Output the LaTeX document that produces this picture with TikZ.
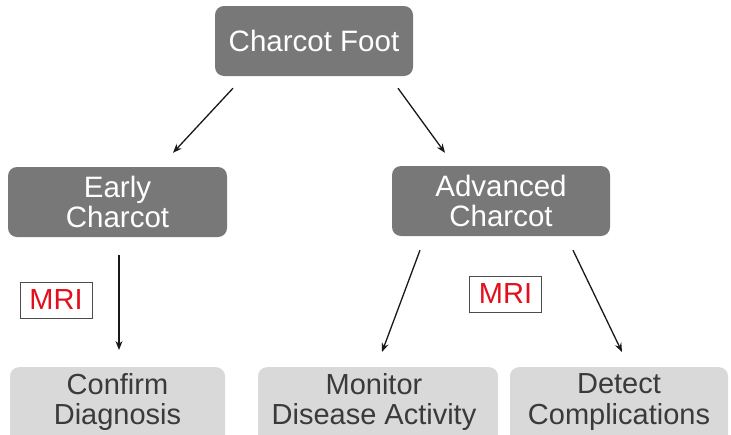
\documentclass[tikz,border=0pt]{standalone}
\usepackage{fontspec}
\setmainfont{Liberation Sans}
\usetikzlibrary{arrows.meta}
\definecolor{darkbox}{HTML}{787878}
\definecolor{lightbox}{HTML}{D9D9D9}
\definecolor{lighttext}{HTML}{3A3A3A}
\definecolor{mrired}{HTML}{E2101C}
\tikzset{
  darknode/.style={fill=darkbox, draw=none, rounded corners=9pt, text=white,
    font=\fontsize{29.5}{30}\selectfont, align=center, inner sep=0pt},
  lightnode/.style={fill=lightbox, draw=none, rounded corners=9pt,
    inner sep=0pt, anchor=north},
  lighttextnode/.style={text=lighttext, font=\fontsize{29}{30.5}\selectfont,
    align=center, inner sep=0pt},
  mribox/.style={draw=black!70, fill=white, line width=0.8pt, text=mrired,
    font=\fontsize{29}{30}\selectfont, minimum width=72pt, minimum height=36pt, inner sep=0pt},
  conn/.style={-{Stealth[length=9pt,width=7pt]}, line width=1.3pt, black!90}
}
\begin{document}
\begin{tikzpicture}[x=1pt,y=-1pt]
\useasboundingbox (0,0) rectangle (731,434);
\fill[white] (0,0) rectangle (731,434);

\node[darknode, minimum width=198pt, minimum height=70pt] (top) at (314,41) {Charcot Foot};
\node[darknode, minimum width=219pt, minimum height=70pt] (early) at (117.5,202) {Early\\Charcot};
\node[darknode, minimum width=218pt, minimum height=70pt] (adv) at (501,201) {Advanced\\Charcot};

\node[lightnode, minimum width=215pt, minimum height=80pt] (confirmbox) at (117.5,367) {};
\node[lightnode, minimum width=240pt, minimum height=80pt] (monitorbox) at (378,367) {};
\node[lightnode, minimum width=218pt, minimum height=80pt] (detectbox) at (619,367) {};

\node[lighttextnode] (confirm) at (117.5,402) {Confirm\\Diagnosis};
\node[lighttextnode] (monitor) at (374,402) {Monitor\\Disease Activity};
\node[lighttextnode] (detect) at (619,402) {Detect\\Complications};

\node[mribox] (mri1) at (56,300) {MRI};
\node[mribox] (mri2) at (505.5,294) {MRI};

\draw[conn] ([xshift=-81pt,yshift=-12pt]top.south) -- ([xshift=55.5pt,yshift=14pt]early.north);
\draw[conn] ([xshift=84pt,yshift=-12pt]top.south) -- ([xshift=-56pt,yshift=13pt]adv.north);
\draw[conn] ([xshift=1.5pt,yshift=-18pt]early.south) -- ([xshift=1.5pt,yshift=17pt]confirmbox.north);
\draw[conn] ([xshift=-81pt,yshift=-14pt]adv.south) -- ([xshift=4pt,yshift=15pt]monitorbox.north);
\draw[conn] ([xshift=72pt,yshift=-14pt]adv.south) -- ([xshift=3pt,yshift=15pt]detectbox.north);
\end{tikzpicture}
\end{document}
